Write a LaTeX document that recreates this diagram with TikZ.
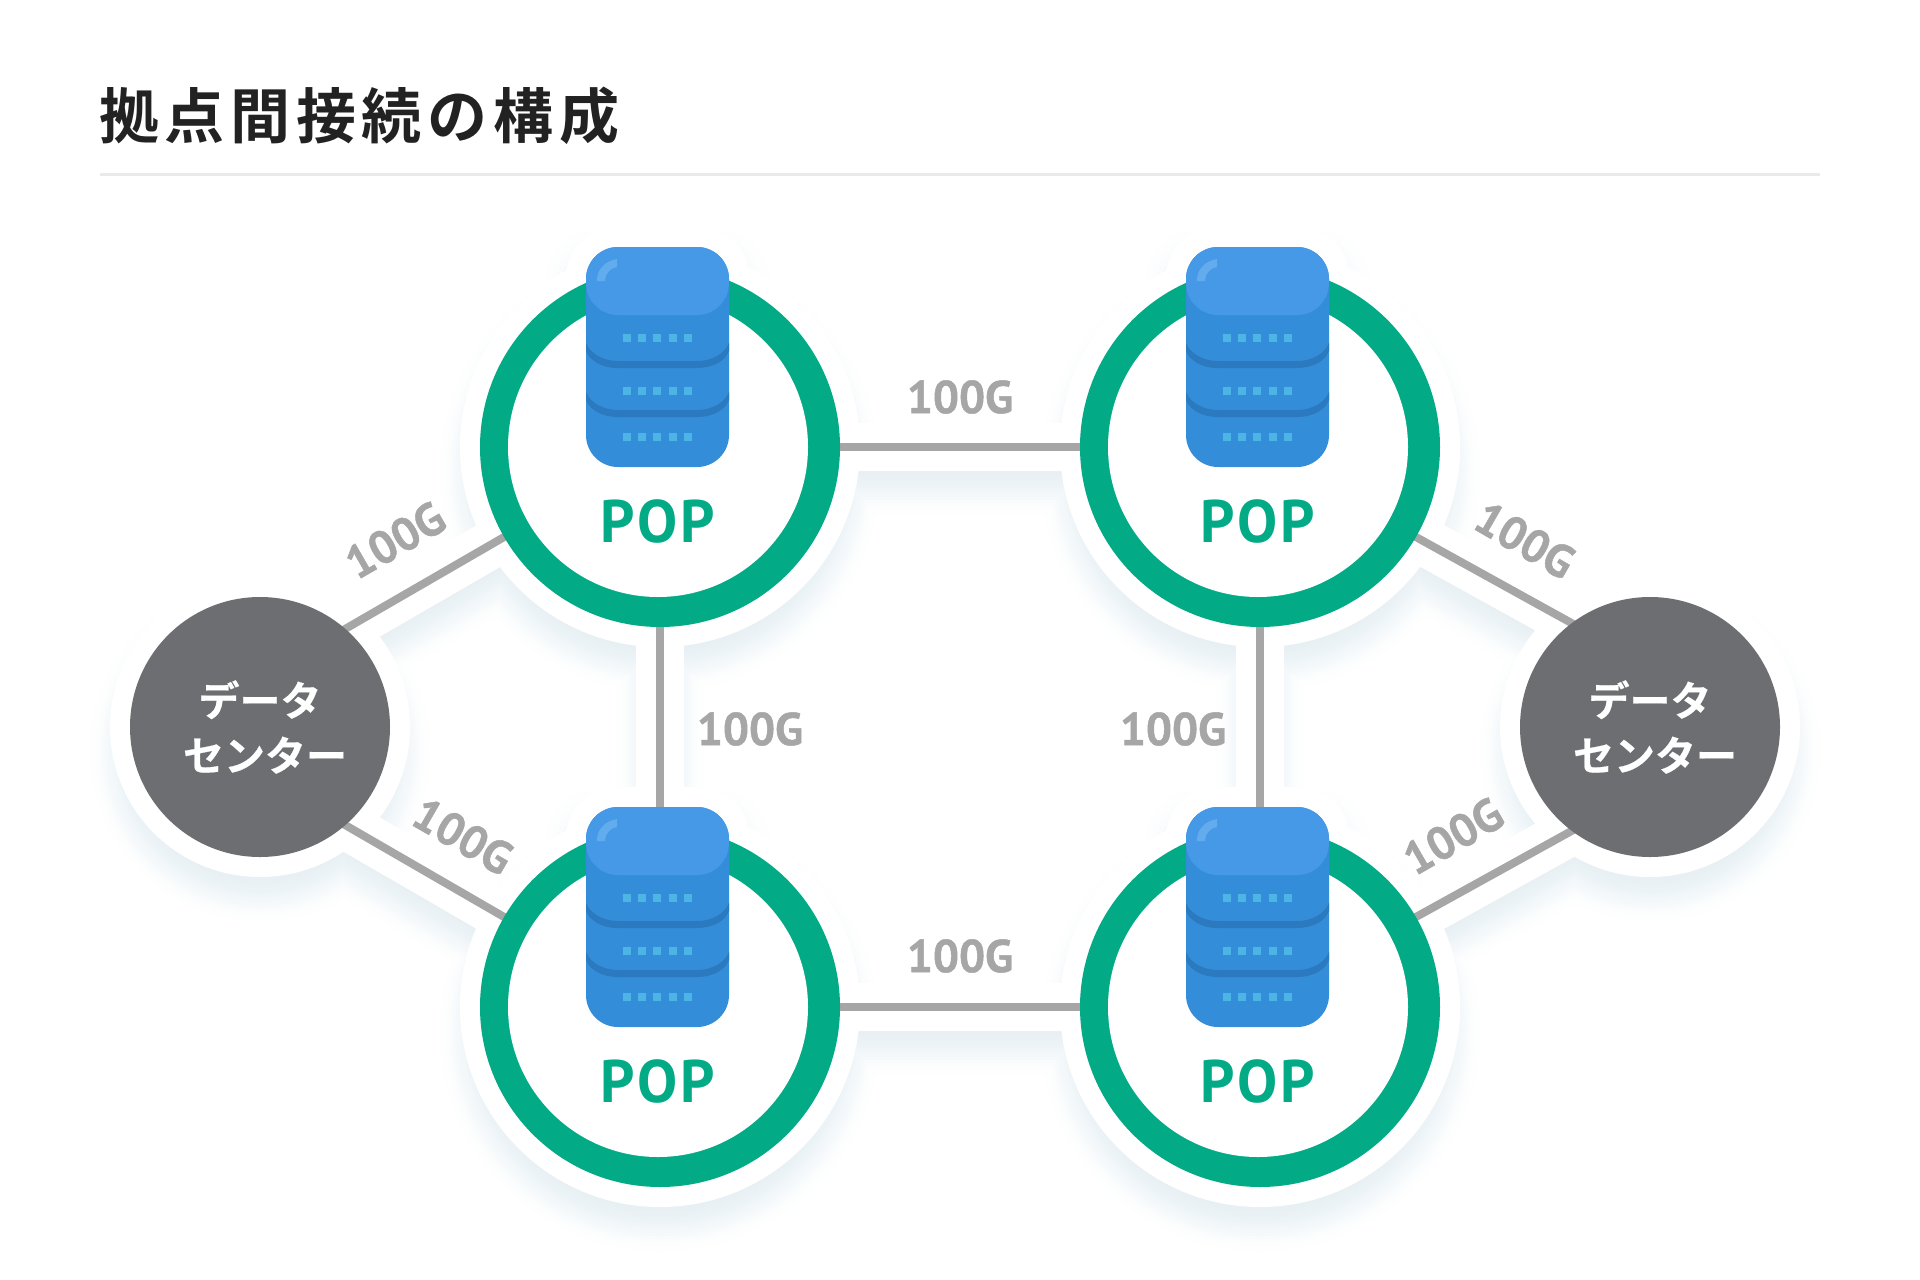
\documentclass[tikz,border=0pt]{standalone}
\usepackage{fontspec}
\usetikzlibrary{calc}
\newfontfamily\jpfont[BoldFont={* Bold},BoldFeatures={FakeBold=0.5}]{Noto Sans CJK JP}
\newfontfamily\jptitle[BoldFont={* Bold},LetterSpace=9.5]{Noto Sans CJK JP}
\newfontfamily\lblfont[BoldFeatures={FakeBold=1}]{PT Sans}
\newfontfamily\popfont[LetterSpace=5]{PT Sans}
\definecolor{ringc}{HTML}{02AB85}
\definecolor{linec}{HTML}{A6A6A6}
\definecolor{dcc}{HTML}{6D6E71}
\definecolor{bodyc}{HTML}{348DD9}
\definecolor{capc}{HTML}{4599E6}
\definecolor{bandc}{HTML}{2B79BE}
\definecolor{glossc}{HTML}{62ABEC}
\definecolor{dotc}{HTML}{4DB4E6}
\definecolor{shadowc}{HTML}{E7F0F4}
\definecolor{titlec}{HTML}{222222}
\definecolor{rulec}{HTML}{E9E9E9}
\pgfdeclarelayer{shad}
\pgfdeclarelayer{conn}
\pgfsetlayers{shad,conn,main}
\tikzset{
  popring/.style={circle,fill=ringc,minimum size=360pt,inner sep=0pt,outer sep=0pt},
  dcnode/.style={circle,fill=dcc,minimum size=260pt,inner sep=0pt,outer sep=0pt,text=white,align=center,
    font=\jpfont\bfseries\fontsize{41}{55}\selectfont},
  link/.style={draw=linec,line width=8pt,shorten <=-4pt,shorten >=-4pt},
  poptext/.style={anchor=base,text=ringc,font=\popfont\bfseries\fontsize{60}{60}\selectfont,inner sep=0pt},
  speed/.style={text=linec,font=\lblfont\bfseries\fontsize{46}{46}\selectfont,inner sep=0pt},
  serverdot/.style={fill=dotc},
  server/.pic={
    \fill[white] (-2,0) circle (150);
    \fill[bodyc,rounded corners=32pt] (-74,-200) rectangle (69,20);
    \fill[capc,rounded corners=32pt] (-74,-200) rectangle (69,-132);
    \foreach \yb in {0,49}{
      \fill[bandc] (-74,-104+\yb) .. controls (-70,-94+\yb) and (-58,-86+\yb) .. (-42,-86+\yb) -- (37,-86+\yb)
        .. controls (53,-86+\yb) and (65,-94+\yb) .. (69,-104+\yb) -- (69,-96+\yb)
        .. controls (65,-86+\yb) and (53,-79+\yb) .. (37,-79+\yb) -- (-42,-79+\yb)
        .. controls (-58,-79+\yb) and (-70,-86+\yb) .. (-74,-96+\yb) -- cycle;
    }
    \fill[glossc] (-43,-188) .. controls (-55,-186) and (-63,-178) .. (-63,-166) -- (-55,-166)
      .. controls (-55,-173) and (-50,-179) .. (-43,-180) -- cycle;
    \foreach \ry in {-113,-60,-14}{
      \foreach \rx in {-37,-22,-7,9,24}{
        \fill[serverdot] (\rx,\ry) rectangle ++(8,8);
      }
    }
  }
}
\newcommand{\blob}[1]{%
  \foreach \pp in {p1,p2,p3,p4}{
    \fill (\pp.center) circle ({200+#1});
    \fill[rounded corners=50pt] ($(\pp.center)+({-94-#1},{-220-#1})$) rectangle ($(\pp.center)+({89+#1},{40+#1})$);
  }
  \foreach \pp in {dcL,dcR}{ \fill (\pp.center) circle ({150+#1}); }
  \begin{scope}[line width={48+2*#1}]
    \draw (p1.center) -- (p2.center);
    \draw (p3.center) -- (p4.center);
    \draw (p1.center) -- (p3.center);
    \draw (p2.center) -- (p4.center);
    \draw (dcL.49) -- (p1.210);
    \draw (dcL.-49) -- (p3.150);
    \draw (dcR.127) -- (p2.-30);
    \draw (dcR.-127) -- (p4.30);
  \end{scope}
}
\begin{document}
\begin{tikzpicture}[x=1pt,y=-1pt]
\useasboundingbox (0,0) rectangle (1920,1280);
% title
\node[anchor=west,inner sep=0pt,text=titlec,font=\jptitle\bfseries\fontsize{60}{60}\selectfont] (title) at (99,116) {拠点間接続の構成};
\coordinate (ruleL) at (100,174);
\coordinate (ruleR) at (1820,174);
\draw[rulec,line width=3pt] (ruleL) -- (ruleR);
% nodes
\node[popring] (p1) at (660,447) {};
\node[popring] (p2) at (1260,447) {};
\node[popring] (p3) at (660,1007) {};
\node[popring] (p4) at (1260,1007) {};
\node[dcnode] (dcL) at (260,727) {データ\\\hspace{10pt}センター};
\node[dcnode] (dcR) at (1650,727) {データ\\\hspace{10pt}センター};
\foreach \pp in {p1,p2,p3,p4}{
  \pic at (\pp.center) {server};
  \node[poptext] (\pp text) at ($(\pp.center)+(-2,95)$) {POP};
}
% shadow + white halo
\begin{pgfonlayer}{shad}
  \begin{scope}[transform canvas={yshift=-24pt}]
    \foreach \d in {26,23,...,-24}{
      \pgfmathsetmacro{\tt}{(26-\d)/50}
      \pgfmathsetmacro{\fr}{100*\tt*\tt*(3-2*\tt)}
      \begin{scope}[color=shadowc!\fr!white]
        \blob{\d}
      \end{scope}
    }
  \end{scope}
  \begin{scope}[color=white]
    \blob{0}
  \end{scope}
\end{pgfonlayer}
% connectors
\begin{pgfonlayer}{conn}
  \path[link] (p1) -- (p2);
  \path[link] (p3) -- (p4);
  \path[link] (p1) -- (p3);
  \path[link] (p2) -- (p4);
  \path[link] (dcL.49) -- (p1.210);
  \path[link] (dcL.-49) -- (p3.150);
  \path[link] (dcR.127) -- (p2.-30);
  \path[link] (dcR.-127) -- (p4.30);
\end{pgfonlayer}
% labels
\node[speed] (s1) at (960,397) {100G};
\node[speed] (s2) at (960,956) {100G};
\node[speed] (s3) at (750,729) {100G};
\node[speed] (s4) at (1173,729) {100G};
\node[speed,rotate=30] (s5) at (395,540) {100G};
\node[speed,rotate=-30] (s6) at (463,836) {100G};
\node[speed,rotate=-30] (s7) at (1525,540) {100G};
\node[speed,rotate=30] (s8) at (1453,836) {100G};
\end{tikzpicture}
\end{document}
